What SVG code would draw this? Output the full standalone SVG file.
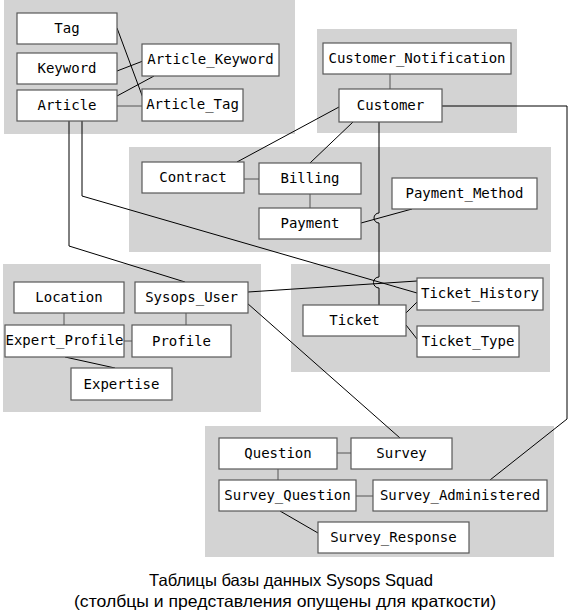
<svg xmlns="http://www.w3.org/2000/svg" width="569" height="610" viewBox="0 0 569 610">
<style>
.grp{fill:#d3d3d3}
.box{fill:#fff;stroke:#595959;stroke-width:1.2}
.lbl{font-family:"DejaVu Sans Mono","Liberation Mono",monospace;font-size:14px;fill:#000;text-anchor:middle}
.cap{font-family:"Liberation Sans","Noto Sans",Arial,sans-serif;font-size:16.5px;fill:#000;text-anchor:middle}
.ln{fill:none;stroke:#000;stroke-width:1}
.sl{fill:none;stroke:#555;stroke-width:1}
</style>
<rect width="569" height="610" fill="#fff"/>
<g id="areas">
<rect class="grp" x="4" y="0" width="291" height="134"/>
<rect class="grp" x="317" y="29" width="200" height="104"/>
<rect class="grp" x="129" y="147" width="422" height="105"/>
<rect class="grp" x="3" y="264" width="258" height="148"/>
<rect class="grp" x="291" y="264" width="259" height="108"/>
<rect class="grp" x="205" y="426" width="349" height="131"/>
</g>
<g id="connectors">
<line class="ln" x1="117" y1="28" x2="143" y2="98"/>
<line class="ln" x1="117" y1="71" x2="143" y2="61"/>
<line class="ln" x1="117" y1="96" x2="154" y2="76"/>
<line class="sl" x1="117" y1="106" x2="142" y2="106"/>
<line class="sl" x1="390" y1="74" x2="390" y2="89"/>
<line class="ln" x1="339" y1="107" x2="237" y2="162"/>
<line class="ln" x1="353" y1="122" x2="310" y2="163"/>
<path class="ln" d="M379,122 V213 A5,5 0 0 0 379,223 V277 A5,5 0 0 0 379,288 V305"/>
<path class="ln" d="M442,106 H567 V419 L490,480"/>
<line class="sl" x1="244" y1="179" x2="259" y2="179"/>
<line class="sl" x1="310" y1="194" x2="310" y2="208"/>
<line class="ln" x1="361" y1="223" x2="412" y2="209"/>
<path class="ln" d="M82,121 V196 L417,293"/>
<path class="ln" d="M69,121 V246 L185,282"/>
<line class="ln" x1="248" y1="292" x2="417" y2="281"/>
<line class="ln" x1="247" y1="303" x2="400" y2="438"/>
<line class="sl" x1="64" y1="313" x2="64" y2="325"/>
<line class="sl" x1="186" y1="313" x2="186" y2="325"/>
<line class="sl" x1="124" y1="341" x2="132" y2="341"/>
<line class="ln" x1="65" y1="357" x2="115" y2="368"/>
<line class="ln" x1="406" y1="313" x2="417" y2="302"/>
<line class="ln" x1="406" y1="325" x2="417" y2="339"/>
<line class="sl" x1="337" y1="453" x2="351" y2="453"/>
<line class="sl" x1="278" y1="469" x2="278" y2="480"/>
<line class="sl" x1="356" y1="496" x2="373" y2="496"/>
<line class="ln" x1="280" y1="511" x2="318" y2="533"/>
</g>
<g id="Tag"><rect class="box" x="17" y="13" width="100" height="31"/><text class="lbl" x="67" y="33">Tag</text></g>
<g id="Keyword"><rect class="box" x="17" y="53" width="100" height="31"/><text class="lbl" x="67" y="73">Keyword</text></g>
<g id="Article"><rect class="box" x="17" y="90" width="100" height="31"/><text class="lbl" x="67" y="110">Article</text></g>
<g id="Article_Keyword"><rect class="box" x="142" y="44" width="137" height="32"/><text class="lbl" x="210.5" y="64">Article_Keyword</text></g>
<g id="Article_Tag"><rect class="box" x="142" y="89" width="101" height="32"/><text class="lbl" x="192.5" y="109">Article_Tag</text></g>
<g id="Customer_Notification"><rect class="box" x="323" y="43" width="188" height="31"/><text class="lbl" x="417" y="63">Customer_Notification</text></g>
<g id="Customer"><rect class="box" x="339" y="89" width="103" height="33"/><text class="lbl" x="390.5" y="110">Customer</text></g>
<g id="Contract"><rect class="box" x="142" y="162" width="102" height="31"/><text class="lbl" x="193" y="182">Contract</text></g>
<g id="Billing"><rect class="box" x="259" y="163" width="102" height="31"/><text class="lbl" x="310" y="183">Billing</text></g>
<g id="Payment"><rect class="box" x="259" y="208" width="102" height="31"/><text class="lbl" x="310" y="228">Payment</text></g>
<g id="Payment_Method"><rect class="box" x="392" y="178" width="145" height="31"/><text class="lbl" x="464.5" y="198">Payment_Method</text></g>
<g id="Location"><rect class="box" x="14" y="282" width="110" height="31"/><text class="lbl" x="69" y="302">Location</text></g>
<g id="Sysops_User"><rect class="box" x="135" y="282" width="113" height="31"/><text class="lbl" x="191.5" y="302">Sysops_User</text></g>
<g id="Expert_Profile"><rect class="box" x="5" y="325" width="119" height="32"/><text class="lbl" x="64.5" y="345">Expert_Profile</text></g>
<g id="Profile"><rect class="box" x="132" y="325" width="99" height="32"/><text class="lbl" x="181.5" y="346">Profile</text></g>
<g id="Expertise"><rect class="box" x="71" y="368" width="101" height="32"/><text class="lbl" x="121.5" y="389">Expertise</text></g>
<g id="Ticket"><rect class="box" x="303" y="305" width="103" height="31"/><text class="lbl" x="354.5" y="325">Ticket</text></g>
<g id="Ticket_History"><rect class="box" x="417" y="278" width="126" height="32"/><text class="lbl" x="480" y="298">Ticket_History</text></g>
<g id="Ticket_Type"><rect class="box" x="417" y="326" width="102" height="31"/><text class="lbl" x="468" y="346">Ticket_Type</text></g>
<g id="Question"><rect class="box" x="219" y="438" width="118" height="31"/><text class="lbl" x="278" y="458">Question</text></g>
<g id="Survey"><rect class="box" x="351" y="438" width="101" height="31"/><text class="lbl" x="401.5" y="458">Survey</text></g>
<g id="Survey_Question"><rect class="box" x="219" y="480" width="137" height="31"/><text class="lbl" x="287.5" y="500">Survey_Question</text></g>
<g id="Survey_Administered"><rect class="box" x="373" y="480" width="174" height="31"/><text class="lbl" x="460" y="500">Survey_Administered</text></g>
<g id="Survey_Response"><rect class="box" x="318" y="522" width="151" height="31"/><text class="lbl" x="393.5" y="542">Survey_Response</text></g>
<g id="caption">
<text class="cap" x="291" y="586" textLength="284" lengthAdjust="spacingAndGlyphs">Таблицы базы данных Sysops Squad</text>
<text class="cap" x="285" y="607" textLength="422" lengthAdjust="spacingAndGlyphs">(столбцы и представления опущены для краткости)</text>
</g>
</svg>
